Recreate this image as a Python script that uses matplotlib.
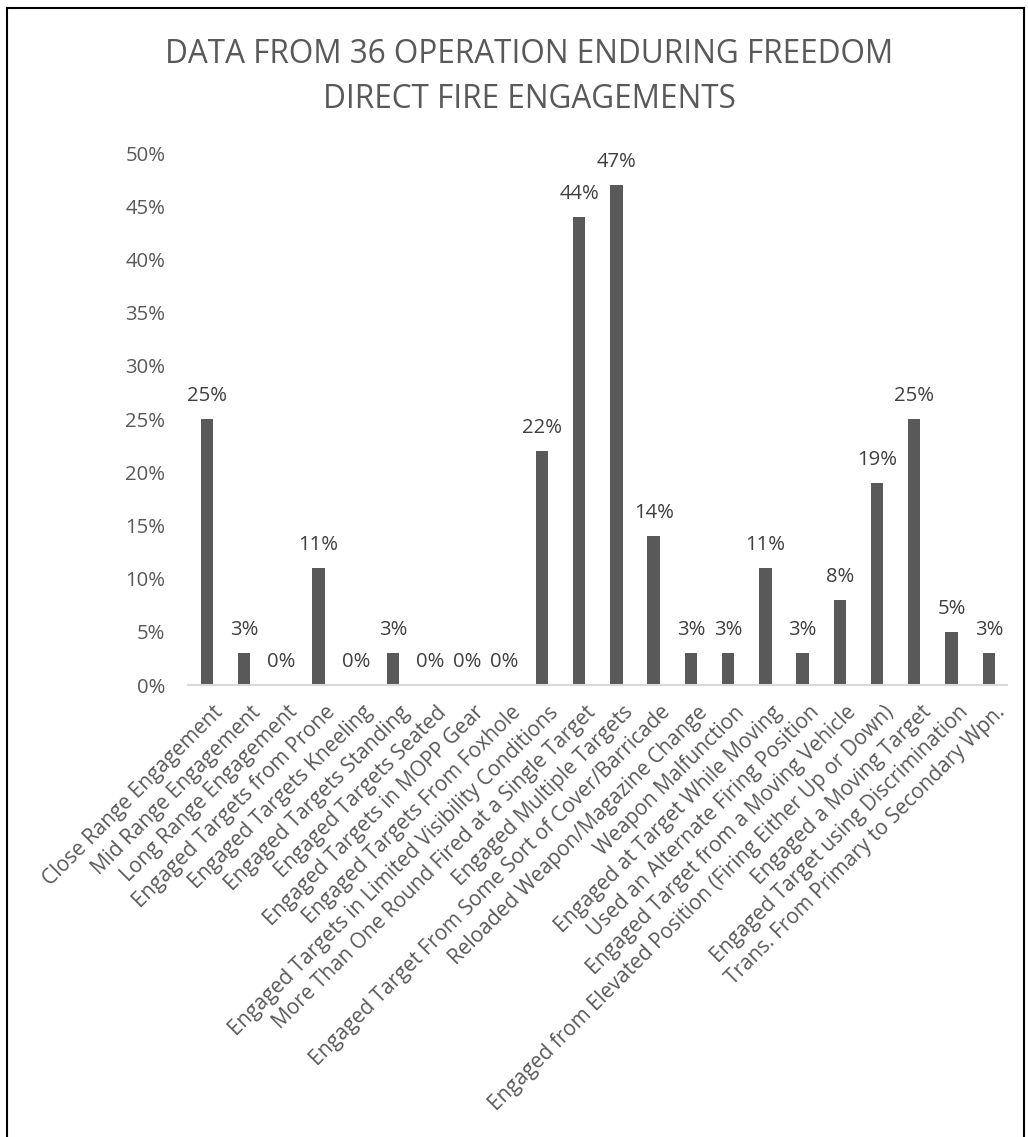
import matplotlib.pyplot as plt
import matplotlib.transforms as mtransforms
from matplotlib.lines import Line2D

plt.rcParams['font.family'] = ['Open Sans', 'DejaVu Sans']

categories = [
    "Close Range Engagement",
    "Mid Range Engagement",
    "Long Range Engagement",
    "Engaged Targets from Prone",
    "Engaged Targets Kneeling",
    "Engaged Targets Standing",
    "Engaged Targets Seated",
    "Engaged Targets in MOPP Gear",
    "Engaged Targets From Foxhole",
    "Engaged Targets in Limited Visibility Conditions",
    "More Than One Round Fired at a Single Target",
    "Engaged Multiple Targets",
    "Engaged Target From Some Sort of Cover/Barricade",
    "Reloaded Weapon/Magazine Change",
    "Weapon Malfunction",
    "Engaged at Target While Moving",
    "Used an Alternate Firing Position",
    "Engaged Target from a Moving Vehicle",
    "Engaged from Elevated Position (Firing Either Up or Down)",
    "Engaged a Moving Target",
    "Engaged Target using Discrimination",
    "Trans. From Primary to Secondary Wpn.",
]
percent = [25, 3, 0, 11, 0, 3, 0, 0, 0, 22, 44, 47, 14, 3, 3, 11, 3, 8, 19, 25, 5, 3]

TEXT = "#595959"
BAR = "#595959"

fig = plt.figure(figsize=(10.28, 11.37), dpi=100)
ax = fig.add_axes([0.183, 0.3975, 0.797, 0.4679])

x = list(range(len(categories)))
values = [p / 100 for p in percent]
ax.bar(x, values, width=0.33, color=BAR, zorder=2)

for i, v in enumerate(values):
    ax.text(i, v + 0.012, f"{percent[i]}%", ha="center", va="bottom",
            fontsize=14.6, color="#404040")

ax.set_xlim(-0.5, len(categories) - 0.5)
ax.set_ylim(0, 0.5)
ax.set_yticks([i * 0.05 for i in range(11)])
ax.set_yticklabels([f"{i * 5}%" for i in range(11)], fontsize=14.6, color=TEXT)
ax.tick_params(axis="y", length=0, pad=16.5)
ax.tick_params(axis="x", length=0)

ax.set_xticks(x)
offset = mtransforms.ScaledTranslation(6 / 100, -12 / 100, fig.dpi_scale_trans)
ax.set_xticklabels(categories, rotation=45, ha="right", va="top",
                   rotation_mode="anchor", fontsize=15, color=TEXT)
for lbl in ax.get_xticklabels():
    lbl.set_transform(lbl.get_transform() + offset)

for side in ["top", "right", "left"]:
    ax.spines[side].set_visible(False)
ax.spines["bottom"].set_color("#d9d9d9")
ax.spines["bottom"].set_linewidth(1.5)

fig.text(0.515, 1 - 63 / 1137, "DATA FROM 36 OPERATION ENDURING FREEDOM",
         ha="center", va="baseline", fontsize=22.7, color=TEXT)
fig.text(0.515, 1 - 108 / 1137, "DIRECT FIRE ENGAGEMENTS",
         ha="center", va="baseline", fontsize=22.7, color=TEXT)

# outer frame (left, top, right)
for xs, ys in [([0.007, 0.007], [0.0, 0.993]),
               ([0.007, 0.996], [0.993, 0.993]),
               ([0.996, 0.996], [0.993, 0.0])]:
    fig.add_artist(Line2D(xs, ys, color="black", linewidth=1.5,
                          transform=fig.transFigure))

fig.savefig("out.png", dpi=100)
